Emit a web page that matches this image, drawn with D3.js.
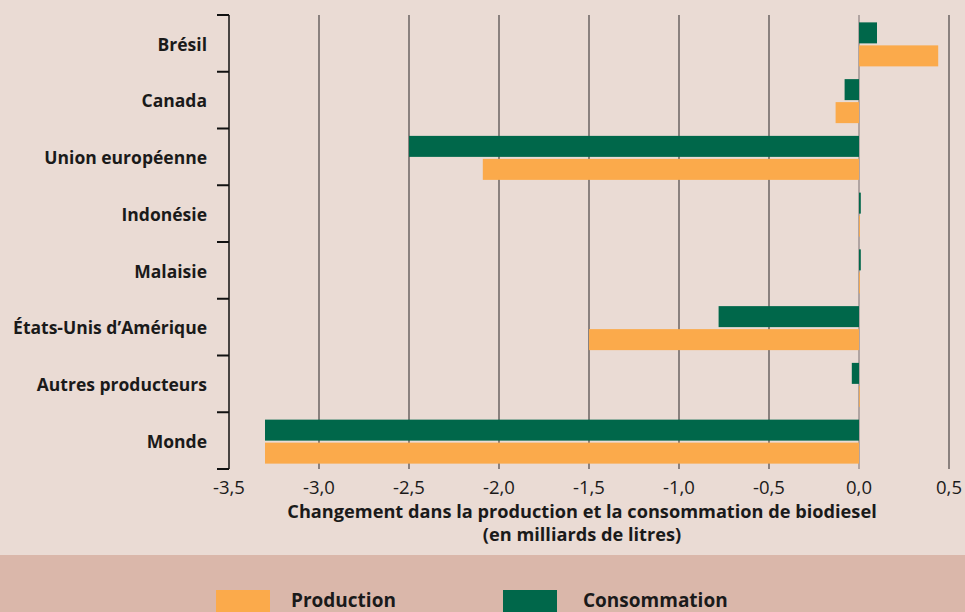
<!DOCTYPE html>
<html><head><meta charset="utf-8">
<script src="https://cdn.jsdelivr.net/npm/d3@7"></script>
<style>body{margin:0;background:#EADBD4;}svg{display:block;}</style>
</head><body><svg id="c" width="965" height="612"></svg>
<script>
const categories = ["Brésil","Canada","Union européenne","Indonésie","Malaisie","États-Unis d’Amérique","Autres producteurs","Monde"];
const consommation = [0.10, -0.08, -2.50, 0.01, 0.01, -0.78, -0.04, -3.30];
const production = [0.44, -0.13, -2.09, 0.005, 0.005, -1.50, 0.003, -3.30];
const xTicks = [-3.5,-3.0,-2.5,-2.0,-1.5,-1.0,-0.5,0.0,0.5];
const seriesNames = ["Production","Consommation"];
const colors = {Production:"#FBAA4B", Consommation:"#00674A"};

const svg = d3.select("#c");
const font = "'Open Sans', 'Noto Sans', sans-serif";
svg.append("rect").attr("width",965).attr("height",612).attr("fill","#EADBD4");
svg.append("rect").attr("x",0).attr("y",555).attr("width",965).attr("height",57).attr("fill","#DAB7AA");

const x = d3.scaleLinear().domain([-3.5,0.5]).range([229,949]);
const y = d3.scaleBand().domain(categories).range([15,469]);
const fmt = d => d3.format(".1f")(d).replace(".",",").replace("−","-");

// gridlines
svg.append("g").selectAll("line").data(xTicks.filter(d=>d>-3.5)).join("line")
  .attr("x1",d=>x(d)).attr("x2",d=>x(d)).attr("y1",15).attr("y2",469)
  .attr("stroke",d=>d===0?"#8a8080":"#4a4545").attr("stroke-width",1.2);

// bars
const bh = 21;
const g = svg.append("g");
categories.forEach((c,i)=>{
  const cy = y(c) + y.bandwidth()/2 + 1;
  const vC = consommation[i], vP = production[i];
  g.append("rect").attr("x",x(Math.min(0,vC))).attr("width",Math.max(1,Math.abs(x(vC)-x(0))))
    .attr("y",cy-bh-1).attr("height",bh).attr("fill",colors.Consommation);
  g.append("rect").attr("x",x(Math.min(0,vP))).attr("width",Math.max(0.8,Math.abs(x(vP)-x(0))))
    .attr("y",cy+1).attr("height",bh).attr("fill",colors.Production);
});

// y axis
const yl = svg.append("g");
yl.append("line").attr("x1",229).attr("x2",229).attr("y1",15).attr("y2",469).attr("stroke","#111").attr("stroke-width",1.5);
const bounds = categories.map(c=>y(c)).concat([469]);
yl.selectAll("line.t").data(bounds).join("line").attr("class","t")
  .attr("x1",217).attr("x2",229).attr("y1",d=>d).attr("y2",d=>d).attr("stroke","#111").attr("stroke-width",2);
yl.selectAll("text").data(categories).join("text")
  .attr("x",207).attr("y",d=>y(d)+y.bandwidth()/2+1).attr("dy","0.35em")
  .attr("text-anchor","end").attr("font-family",font).attr("font-weight","bold")
  .attr("font-size",17.5).attr("fill","#1a1a1a").text(d=>d);

// x tick labels
svg.append("g").selectAll("text").data(xTicks).join("text")
  .attr("x",d=>x(d)).attr("y",494).attr("text-anchor","middle")
  .attr("font-family",font).attr("font-size",18.5).attr("fill","#1a1a1a").text(fmt);

// axis title
svg.append("text").attr("x",582).attr("y",518).attr("text-anchor","middle")
  .attr("font-family",font).attr("font-weight","bold").attr("font-size",18.2).attr("fill","#1a1a1a")
  .text("Changement dans la production et la consommation de biodiesel");
svg.append("text").attr("x",582).attr("y",541).attr("text-anchor","middle")
  .attr("font-family",font).attr("font-weight","bold").attr("font-size",18.2).attr("fill","#1a1a1a")
  .text("(en milliards de litres)");

// legend
const lx = [216, 503];
seriesNames.forEach((s,i)=>{
  svg.append("rect").attr("x",lx[i]).attr("y",590).attr("width",54).attr("height",30).attr("fill",colors[s]);
  svg.append("text").attr("x",lx[i]+75 + (i===1?5:0)).attr("y",607).attr("font-family",font)
    .attr("font-weight","bold").attr("font-size",19).attr("fill","#1a1a1a").text(s);
});
</script></body></html>
